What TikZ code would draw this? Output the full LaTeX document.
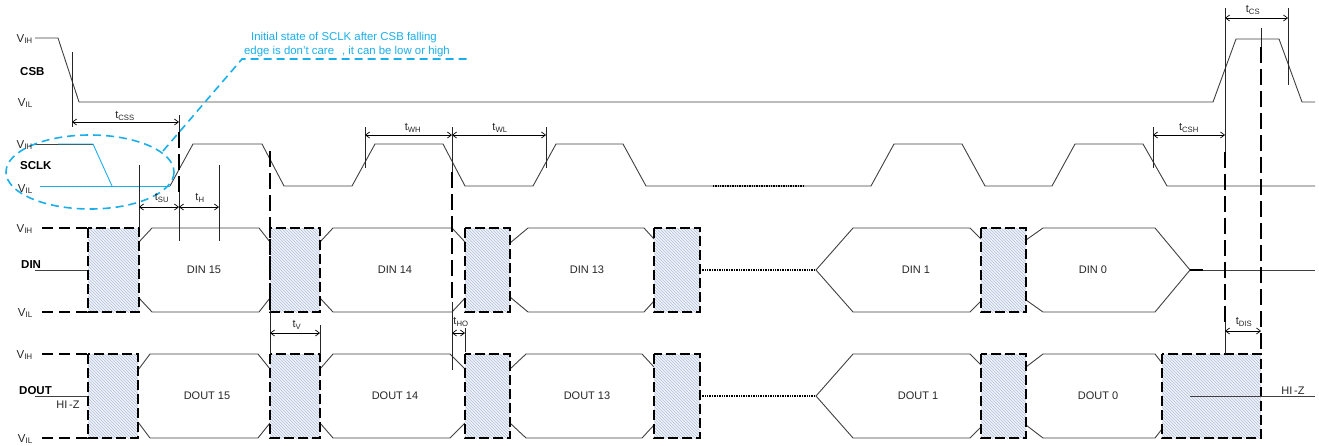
\documentclass[tikz,border=0pt]{standalone}
\usepackage{fontspec}
\setmainfont{Liberation Sans}
\usetikzlibrary{patterns,arrows.meta}
\definecolor{annot}{HTML}{1AAFEB}
\definecolor{hatchc}{HTML}{B3C1D9}
\definecolor{hatchbg}{HTML}{F0F3F9}
\definecolor{wavec}{HTML}{404040}
\newcommand{\Vlab}[1]{V\textsubscript{#1}}
\newcommand{\tlab}[1]{t\textsubscript{#1}}
\begin{document}
\begin{tikzpicture}[x=1pt,y=-1pt,
  font=\fontsize{11}{13}\selectfont,
  wv/.style={draw=wavec, line width=0.9pt, line join=miter},
  thinl/.style={draw=black!85, line width=0.7pt},
  guide/.style={draw=black, line width=1.8pt, dash pattern=on 16pt off 6pt},
  lvl/.style={draw=black, line width=1.8pt, dash pattern=on 11pt off 6pt},
  hbox/.style={draw=black, line width=1.8pt, dash pattern=on 10pt off 4pt, preaction={fill=hatchbg}, pattern=north west lines, pattern color=hatchc},
  dim/.style={draw=black, line width=0.7pt, {Straight Barb[length=4pt,width=6pt]}-{Straight Barb[length=4pt,width=6pt]}},
  dotl/.style={draw=black, line width=1.6pt, dash pattern=on 1pt off 0.7pt},
  vlab/.style={anchor=base east, inner sep=0pt, text=black!85, font=\fontsize{11.5}{13}\selectfont},
  sig/.style={anchor=west, inner sep=0pt, font=\fontsize{11.5}{13}\selectfont\bfseries},
  tl/.style={inner sep=0pt, text=black!85},
  dl/.style={inner sep=0pt, text=black!85},
  note/.style={inner sep=0pt, text=annot, font=\fontsize{11.4}{13}\selectfont},
  ]
\useasboundingbox (0,0) rectangle (1319,445);

% ---------- CSB ----------
\draw[wv] (35,38) -- (58,38) -- (79,102) -- (1213,102) -- (1236,39) -- (1279,39) -- (1302,102) -- (1315,102);

% ---------- SCLK ----------
\draw[wv] (35,144) -- (93,144);
\draw[annot, line width=0.9pt] (58,144) -- (93,144) -- (112,186);
\draw[annot, line width=0.9pt] (40,186) -- (170,186);
\draw[wv] (170,186) -- (193,144) -- (262,144) -- (284,186) -- (352,186) -- (375,144) -- (443,144) -- (465,186) -- (533,186) -- (556,144) -- (623,144) -- (646,186) -- (871,186) -- (894,144) -- (962,144) -- (985,186) -- (1052,186) -- (1075,144) -- (1143,144) -- (1167,186) -- (1315,186);
\draw[dotl] (713,186) -- (804,186);

% annotation
\draw[annot, line width=1.6pt, dash pattern=on 8pt off 5pt] (90,172) ellipse [x radius=84, y radius=37];
\draw[annot, line width=1.6pt, dash pattern=on 8pt off 5pt] (163,151) -- (242,59) -- (468,59);
\node[note] (n1) at (344,38) {Initial state of SCLK after CSB falling};
\node[note] (n2) at (347,52) {edge is don't care\hspace{8pt}, it can be low or high};

% ---------- DIN ----------
\draw[lvl] (42,228) -- (88,228);
\draw[lvl] (42,312) -- (88,312);
\draw[wv] (35,270) -- (88,270);
\draw[wv] (139,242) -- (152,228) -- (259,228) -- (270,242);
\draw[wv] (139,298) -- (152,312) -- (259,312) -- (270,298);
\draw[wv] (320,242) -- (333,228) -- (452,228) -- (465,242);
\draw[wv] (320,298) -- (333,312) -- (452,312) -- (465,298);
\draw[wv] (510,243) -- (528,228) -- (644,228) -- (654,239);
\draw[wv] (510,297) -- (528,312) -- (644,312) -- (654,301);
\draw[dotl] (700,270) -- (816,270);
\draw[wv] (981,239) -- (970,228) -- (853,228) -- (816,270) -- (853,312) -- (970,312) -- (981,301);
\draw[wv] (1026,240) -- (1043,228) -- (1155,228) -- (1190,270) -- (1155,312) -- (1043,312) -- (1026,300);
\draw[wv] (1190,270) -- (1315,270);
\draw[black, line width=1.4pt] (1190,270) -- (1203,270);
\foreach \a/\b in {88/139,270/320,465/510,654/700,981/1026}
  \draw[hbox] (\a,228) rectangle (\b,312);

% ---------- DOUT ----------
\draw[lvl] (42,354) -- (88,354);
\draw[lvl] (42,438) -- (88,438);
\draw[wv] (35,396) -- (88,396);
\draw[wv] (138,370) -- (150,354) -- (258,354) -- (270,369);
\draw[wv] (138,422) -- (150,438) -- (258,438) -- (270,423);
\draw[wv] (320,369) -- (333,354) -- (450,354) -- (465,369);
\draw[wv] (320,423) -- (333,438) -- (450,438) -- (465,423);
\draw[wv] (510,369) -- (526,354) -- (642,354) -- (654,367);
\draw[wv] (510,423) -- (526,438) -- (642,438) -- (654,425);
\draw[dotl] (700,396) -- (816,396);
\draw[wv] (981,365) -- (970,354) -- (853,354) -- (816,396) -- (853,438) -- (970,438) -- (981,427);
\draw[wv] (1026,367) -- (1043,354) -- (1155,354) -- (1162,363);
\draw[wv] (1026,425) -- (1043,438) -- (1155,438) -- (1162,429);
\foreach \a/\b in {88/138,270/320,465/510,654/700,981/1026,1162/1261}
  \draw[hbox] (\a,354) rectangle (\b,438);
\draw[wv] (1190,396) -- (1315,396);

% ---------- guides and dimensions ----------
\draw[thinl] (72,52) -- (72,127);
\draw[dim] (72,122) -- (179,122);
\draw[thinl] (179,115) -- (179,132);
\draw[guide] (179,132) -- (179,192);
\draw[thinl] (179,192) -- (179,241);
\draw[thinl] (139,165) -- (139,228);
\draw[thinl] (219,165) -- (219,241);
\draw[dim] (139,207) -- (179,207);
\draw[dim] (179,207) -- (219,207);

\draw[guide] (270,151) -- (270,310);
\draw[thinl] (270,310) -- (270,354);
\draw[thinl] (320,325) -- (320,354);
\draw[dim] (270,333) -- (320,333);

\draw[thinl] (365,127) -- (365,168);
\draw[dim] (365,135) -- (452,135);
\draw[dim] (452,135) -- (546,135);
\draw[thinl] (546,127) -- (546,168);
\draw[thinl] (452,127) -- (452,172);
\draw[guide] (452,172) -- (452,302);
\draw[thinl] (452,302) -- (452,370);
\draw[thinl] (465,328) -- (465,352);
\draw[dim] (452,333) -- (465,333);

\draw[thinl] (1153,127) -- (1153,168);
\draw[dim] (1153,135) -- (1225,135);
\draw[thinl] (1225,8) -- (1225,152);
\draw[guide] (1225,152) -- (1225,322);
\draw[thinl] (1225,322) -- (1225,354);
\draw[thinl] (1261,28) -- (1261,47);
\draw[guide] (1261,47) -- (1261,354);
\draw[thinl] (1288,8) -- (1288,85);
\draw[dim] (1225,18) -- (1288,18);
\draw[dim] (1225,331) -- (1261,331);

% ---------- labels ----------
\node[vlab] (v1) at (33,42) {\Vlab{IH}};
\node[vlab] (v2) at (33,106) {\Vlab{IL}};
\node[vlab] (v3) at (33,148) {\Vlab{IH}};
\node[vlab] (v4) at (33,192) {\Vlab{IL}};
\node[vlab] (v5) at (33,232) {\Vlab{IH}};
\node[vlab] (v6) at (33,316) {\Vlab{IL}};
\node[vlab] (v7) at (33,358) {\Vlab{IH}};
\node[vlab] (v8) at (33,442) {\Vlab{IL}};

\node[sig] (lcsb) at (20,72) {CSB};
\node[sig] (lsclk) at (20,166) {SCLK};
\node[sig] (ldin) at (21,265) {DIN};
\node[sig] (ldout) at (19,391) {DOUT};
\node[dl] (hz1) at (68,405) {HI\,-Z};
\node[dl] (hz2) at (1293,391) {HI\,-Z};

\node[tl] (tcss) at (125,116) {\tlab{CSS}};
\node[tl] (tsu) at (162,198) {\tlab{SU}};
\node[tl] (th) at (200,198) {\tlab{H}};
\node[tl] (twh) at (413,128) {\tlab{WH}};
\node[tl] (twl) at (500,128) {\tlab{WL}};
\node[tl] (tcsh) at (1189,128) {\tlab{CSH}};
\node[tl] (tcs) at (1253,10) {\tlab{CS}};
\node[tl] (tv) at (297,325) {\tlab{V}};
\node[tl] (tho) at (461,322) {\tlab{HO}};
\node[tl] (tdis) at (1244,322) {\tlab{DIS}};

\node[dl] (d15) at (204,270) {DIN 15};
\node[dl] (d14) at (395,270) {DIN 14};
\node[dl] (d13) at (587,270) {DIN 13};
\node[dl] (d1) at (916,270) {DIN 1};
\node[dl] (d0) at (1093,270) {DIN 0};
\node[dl] (o15) at (207,396) {DOUT 15};
\node[dl] (o14) at (395,396) {DOUT 14};
\node[dl] (o13) at (587,396) {DOUT 13};
\node[dl] (o1) at (918,396) {DOUT 1};
\node[dl] (o0) at (1098,396) {DOUT 0};
\end{tikzpicture}
\end{document}
